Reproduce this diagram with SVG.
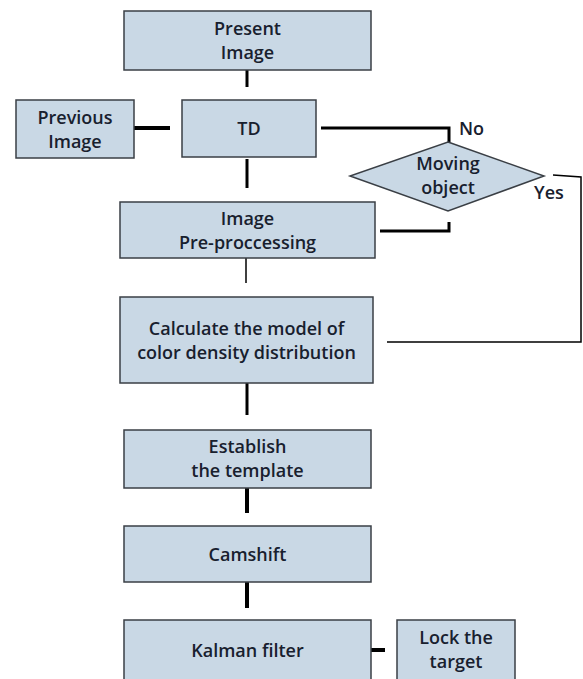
<svg xmlns="http://www.w3.org/2000/svg" width="583" height="679" viewBox="0 0 583 679">
<style>
.box{fill:#c9d8e5;stroke:#3a3f45;stroke-width:1.5}
.t{font-family:"Open Sans","Liberation Sans",sans-serif;font-size:18px;fill:#18202e;text-anchor:middle;dominant-baseline:central;font-weight:600}
.lbl{font-family:"Open Sans","Liberation Sans",sans-serif;font-size:18px;fill:#18202e;dominant-baseline:central;font-weight:600}
.c{fill:none;stroke:#000;stroke-width:3}
.c4{fill:none;stroke:#000;stroke-width:4}
.thin{fill:none;stroke:#000;stroke-width:1.5}
</style>
<rect width="583" height="679" fill="#fff"/>
<g id="connectors">
<path class="c" d="M247,70 V87"/>
<path class="c4" d="M134,128 H170"/>
<path class="c" d="M321,128 H449 V142"/>
<path class="c" d="M247,159 V188"/>
<path class="c" d="M449,222 V231 H380"/>
<path class="thin" d="M553,175 L581,177 V342 H387"/>
<path class="thin" d="M246,258 V283"/>
<path class="c" d="M247,383 V415"/>
<path class="c4" d="M247,488 V513"/>
<path class="c4" d="M247,582 V608"/>
<path class="c4" d="M369,650 H385"/>
</g>
<g id="present">
<rect class="box" x="124" y="11" width="247" height="59"/>
<text class="t" x="247.5" y="28">Present</text>
<text class="t" x="247.5" y="52">Image</text>
</g>
<g id="previous">
<rect class="box" x="16" y="100" width="118" height="58"/>
<text class="t" x="75" y="116.5">Previous</text>
<text class="t" x="75" y="140.5">Image</text>
</g>
<g id="td">
<rect class="box" x="182" y="100" width="134" height="57"/>
<text class="t" x="249" y="128">TD</text>
</g>
<g id="moving">
<polygon class="box" points="448,142 544,176 448,211 350,176"/>
<text class="t" x="448" y="163">Moving</text>
<text class="t" x="448" y="187">object</text>
<text class="lbl" x="459" y="128">No</text>
<text class="lbl" x="534" y="192">Yes</text>
</g>
<g id="preproc">
<rect class="box" x="120" y="202" width="255" height="56"/>
<text class="t" x="247.5" y="218">Image</text>
<text class="t" x="247.5" y="242">Pre-proccessing</text>
</g>
<g id="calc">
<rect class="box" x="120" y="297" width="253" height="86"/>
<text class="t" x="246.5" y="328">Calculate the model of</text>
<text class="t" x="246.5" y="352">color density distribution</text>
</g>
<g id="establish">
<rect class="box" x="124" y="430" width="247" height="58"/>
<text class="t" x="247.5" y="446">Establish</text>
<text class="t" x="247.5" y="470">the template</text>
</g>
<g id="camshift">
<rect class="box" x="124" y="526" width="247" height="56"/>
<text class="t" x="247.5" y="554">Camshift</text>
</g>
<g id="kalman">
<rect class="box" x="124" y="620" width="247" height="64"/>
<text class="t" x="247.5" y="650">Kalman filter</text>
</g>
<g id="lock">
<rect class="box" x="397" y="620" width="118" height="64"/>
<text class="t" x="456" y="637">Lock the</text>
<text class="t" x="456" y="661">target</text>
</g>
</svg>
